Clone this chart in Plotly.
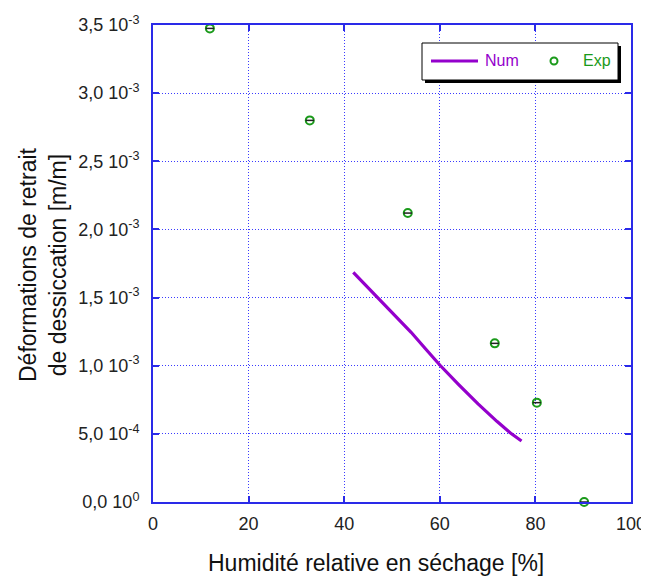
import plotly.graph_objects as go

# ---- data ----
num_x = [41.9, 44.5, 47.1, 50.5, 54.0, 57.0, 60.0, 64.0, 68.0, 72.0, 75.0, 77.1]
num_y = [1.685e-3, 1.59e-3, 1.50e-3, 1.37e-3, 1.245e-3, 1.125e-3, 1.005e-3, 0.86e-3, 0.72e-3, 0.59e-3, 0.50e-3, 0.448e-3]

exp_x = [11.9, 32.8, 53.3, 71.5, 80.3, 90.2]
exp_y = [3.475e-3, 2.80e-3, 2.12e-3, 1.164e-3, 0.729e-3, 0.0]

x_ticks = [0, 20, 40, 60, 80, 100]
y_ticks = [0.0, 0.5e-3, 1.0e-3, 1.5e-3, 2.0e-3, 2.5e-3, 3.0e-3, 3.5e-3]
y_tick_text = ["0,0 10<sup>0</sup>", "5,0 10<sup>-4</sup>", "1,0 10<sup>-3</sup>", "1,5 10<sup>-3</sup>",
               "2,0 10<sup>-3</sup>", "2,5 10<sup>-3</sup>", "3,0 10<sup>-3</sup>", "3,5 10<sup>-3</sup>"]

x_title = "Humidité relative en séchage [%]"
y_title = "Déformations de retrait<br>de dessiccation [m/m]"

PURPLE = "#9400cc"
GREEN = "#1a9a1a"
BLUE = "#2a2ae8"
GRID = "#3a3aff"
FONT = "Liberation Sans, Arial"

# page (window) geometry; the html body adds an 8px offset
W, H, OFF = 649, 581, 8
PL, PR, PT, PB = 153, 631, 25, 502          # plot area in page pixels
PW, PH = PR - PL, PB - PT


def px(xp):
    return (xp - PL) / PW


def py(yp):
    return (PB - yp) / PH


fig = go.Figure()
fig.add_trace(go.Scatter(x=num_x, y=num_y, mode="lines", name="Num",
                         line=dict(color=PURPLE, width=3.2), showlegend=False, cliponaxis=False))
fig.add_trace(go.Scatter(x=exp_x, y=exp_y, mode="markers", name="Exp",
                         marker=dict(symbol="circle-open", size=8, color=GREEN, line=dict(width=2, color=GREEN)),
                         showlegend=False, cliponaxis=False))
fig.add_trace(go.Scatter(x=exp_x, y=exp_y, mode="markers", name="Exp bar",
                         marker=dict(symbol="line-ew", size=6, line=dict(width=1.5, color="#222222")),
                         showlegend=False, cliponaxis=False))

axis_common = dict(
    showline=True, linecolor=BLUE, linewidth=2, mirror="ticks",
    showgrid=True, gridcolor=GRID, griddash="1px,2px", gridwidth=1,
    ticks="inside", ticklen=6, tickcolor=BLUE, tickwidth=2,
    zeroline=False, automargin=False,
    tickfont=dict(family=FONT, size=18, color="#222222"),
)

fig.update_xaxes(range=[0, 100], tickvals=x_ticks, ticktext=[str(v) for v in x_ticks],
                 ticklabelstandoff=4, **axis_common)
fig.update_yaxes(range=[0, 3.5e-3], tickvals=y_ticks, ticktext=y_tick_text,
                 ticklabelstandoff=8, **axis_common)

# manual legend with drop shadow
shapes = [
    dict(type="rect", xref="paper", yref="paper", x0=px(425), x1=px(621), y0=py(83), y1=py(46),
         fillcolor="black", line=dict(width=0), layer="above"),
    dict(type="rect", xref="paper", yref="paper", x0=px(422), x1=px(618), y0=py(80), y1=py(43),
         fillcolor="white", line=dict(width=1, color="black"), layer="above"),
    dict(type="line", xref="paper", yref="paper", x0=px(431), x1=px(478), y0=py(61), y1=py(61),
         line=dict(color=PURPLE, width=3), layer="above"),
    dict(type="circle", xref="paper", yref="paper", x0=px(550.5), x1=px(557.5), y0=py(64.5), y1=py(57.5),
         line=dict(color=GREEN, width=2), layer="above"),
]
annotations = [
    dict(text="Num", xref="paper", yref="paper", x=px(483), y=py(61), xanchor="left", yanchor="middle",
         showarrow=False, font=dict(family=FONT, size=16, color=PURPLE)),
    dict(text="Exp", xref="paper", yref="paper", x=px(581), y=py(61), xanchor="left", yanchor="middle",
         showarrow=False, font=dict(family=FONT, size=16, color=GREEN)),
    dict(text=x_title, xref="paper", yref="paper", x=px(376), y=py(563), xanchor="center", yanchor="middle",
         showarrow=False, font=dict(family=FONT, size=23, color="#111111")),
    dict(text=y_title, xref="paper", yref="paper", x=px(43), y=py(265), xanchor="center", yanchor="middle",
         textangle=-90, showarrow=False, font=dict(family=FONT, size=23, color="#111111")),
]

fig.update_layout(
    width=W - OFF, height=H - OFF,
    margin=dict(l=PL - OFF, r=W - PR, t=PT - OFF, b=H - PB),
    paper_bgcolor="white", plot_bgcolor="white",
    shapes=shapes, annotations=annotations,
    showlegend=False,
)

fig.write_html("out.html")
